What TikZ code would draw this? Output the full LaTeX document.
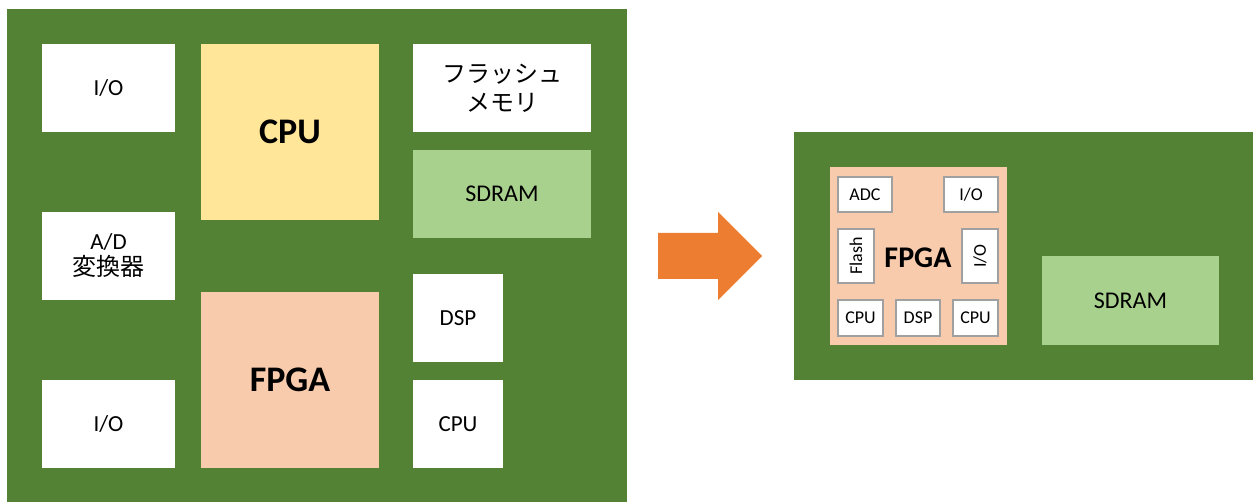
\documentclass[tikz,border=0pt]{standalone}
\usepackage{fontspec}
\setmainfont{Carlito}
\newfontfamily\jpfont{Noto Sans CJK JP}
\definecolor{boardgreen}{HTML}{548235}
\definecolor{cpuyellow}{HTML}{FFE699}
\definecolor{fpgapeach}{HTML}{F8CBAD}
\definecolor{ramgreen}{HTML}{A9D18E}
\definecolor{arroworange}{HTML}{ED7D31}
\definecolor{edgegray}{HTML}{A0A0A0}
% block: name, x1, y1, x2, y2, style, text  (coordinates in px, y downwards)
\newcommand\blk[7]{%
  \node[#6, minimum width={(#4-#2)*1pt}, minimum height={(#5-#3)*1pt}]
    (#1) at ({(#2+#4)/2},{(#3+#5)/2}) {#7};}
\begin{document}
\begin{tikzpicture}[x=1pt, y=-1pt,
  blockbase/.style={rectangle, inner sep=0pt, outer sep=0pt, align=center, text=black},
  panel/.style={blockbase, fill=boardgreen},
  whitebox/.style={blockbase, fill=white, font=\fontsize{23}{25}\selectfont},
  jpbox/.style={blockbase, fill=white, font=\fontsize{24}{29}\selectfont\jpfont},
  cpubox/.style={blockbase, fill=cpuyellow, font=\fontsize{36}{38}\selectfont\bfseries},
  fpgabox/.style={blockbase, fill=fpgapeach, font=\fontsize{36}{38}\selectfont\bfseries},
  rambox/.style={blockbase, fill=ramgreen, font=\fontsize{24}{26}\selectfont},
  ipbox/.style={blockbase, fill=white, draw=edgegray, line width=1.4pt, font=\fontsize{18}{20}\selectfont},
]
\useasboundingbox (0,0) rectangle (1253,502);
\fill[white] (0,0) rectangle (1253,502);

% ---- discrete board ----
\blk{boardA}{7}{9}{627}{502}{panel}{}
\blk{ioA}{42}{44}{175}{132}{whitebox}{I/O}
\blk{cpuA}{201}{44}{379}{220}{cpubox}{CPU}
\blk{flashA}{413}{44}{591}{132}{jpbox}{フラッシュ\\メモリ}
\blk{sdramA}{413}{150}{591}{238}{rambox}{SDRAM}
\blk{adcA}{42}{212}{175}{300}{whitebox}{A/D\\[1pt]{\jpfont\fontsize{24}{25}\selectfont 変換器}}
\blk{fpgaA}{201}{292}{379}{468}{fpgabox}{FPGA}
\blk{dspA}{413}{274}{503}{362}{whitebox}{DSP}
\blk{cpuB}{413}{380}{503}{468}{whitebox}{CPU}
\blk{ioB}{42}{380}{175}{468}{whitebox}{I/O}

% ---- transition arrow ----
\fill[arroworange] (658,233) -- (718,233) -- (718,212) -- (762,256)
  -- (718,300) -- (718,279) -- (658,279) -- cycle;

% ---- integrated board ----
\blk{boardB}{794}{132}{1253}{380}{panel}{}
\blk{fpgaB}{830}{167}{1007}{345}{blockbase, fill=fpgapeach}{}
\node[font=\fontsize{30}{32}\selectfont\bfseries, inner sep=0pt] (fpgaLbl) at (918,258) {FPGA};
\blk{adcB}{838}{177}{892}{212}{ipbox}{ADC}
\blk{ioC}{944}{177}{998}{212}{ipbox}{I/O}
\blk{flashB}{838}{229}{874}{283}{ipbox}{}
\node[rotate=90, font=\fontsize{18}{20}\selectfont, inner sep=0pt] (flashLbl) at (flashB) {Flash};
\blk{ioD}{962}{229}{998}{283}{ipbox}{}
\node[rotate=90, font=\fontsize{18}{20}\selectfont, inner sep=0pt] (ioLbl) at (ioD) {I/O};
\blk{cpuC}{838}{300}{883}{336}{ipbox}{CPU}
\blk{dspB}{896}{300}{940}{336}{ipbox}{DSP}
\blk{cpuD}{953}{300}{998}{336}{ipbox}{CPU}
\blk{sdramB}{1042}{256}{1219}{345}{rambox}{SDRAM}
\end{tikzpicture}
\end{document}
